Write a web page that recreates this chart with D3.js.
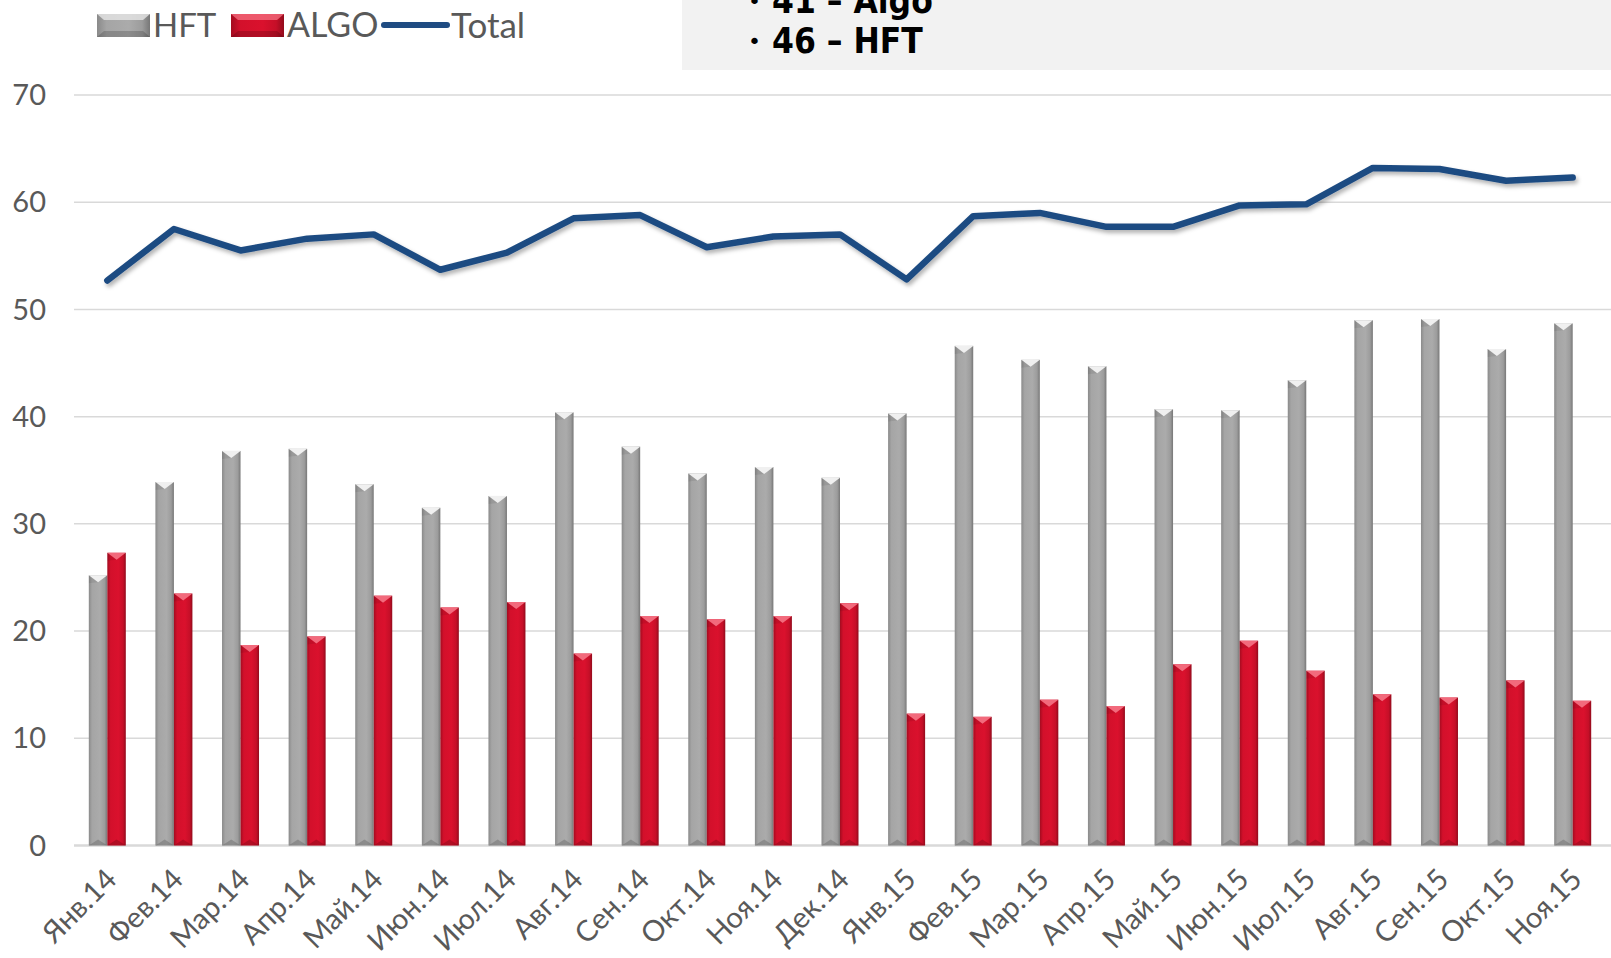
<!DOCTYPE html>
<html>
<head>
<meta charset="utf-8">
<script src="https://cdn.jsdelivr.net/npm/d3@7"></script>
<style>
  html, body { margin: 0; padding: 0; background: #fff; }
  svg { display: block; }
</style>
</head>
<body>
<div id="chart"></div>
<script>
// ── Data ──
const months = ['Янв.14', 'Фев.14', 'Мар.14', 'Апр.14', 'Май.14', 'Июн.14', 'Июл.14', 'Авг.14',
  'Сен.14', 'Окт.14', 'Ноя.14', 'Дек.14', 'Янв.15', 'Фев.15', 'Мар.15', 'Апр.15', 'Май.15',
  'Июн.15', 'Июл.15', 'Авг.15', 'Сен.15', 'Окт.15', 'Ноя.15'];
const hft = [25.2, 33.9, 36.8, 37.0, 33.7, 31.5, 32.6, 40.4, 37.2, 34.7, 35.3, 34.3,
  40.3, 46.6, 45.3, 44.7, 40.7, 40.6, 43.4, 49.0, 49.1, 46.3, 48.7];
const algo = [27.3, 23.5, 18.7, 19.5, 23.3, 22.2, 22.7, 17.9, 21.4, 21.1, 21.4, 22.6,
  12.3, 12.0, 13.6, 13.0, 16.9, 19.1, 16.3, 14.1, 13.8, 15.4, 13.5];
const total = [52.7, 57.5, 55.5, 56.6, 57.0, 53.7, 55.3, 58.5, 58.8, 55.8, 56.8, 57.0,
  52.8, 58.7, 59.0, 57.7, 57.7, 59.7, 59.8, 63.2, 63.1, 62.0, 62.3];
const yTicks = [0, 10, 20, 30, 40, 50, 60, 70];
const noteLines = ['41 – Algo', '46 – HFT'];

const W = 1611, H = 958;
const FONT = 'Lato, "Open Sans", sans-serif';

const svg = d3.select('#chart').append('svg')
  .attr('width', W).attr('height', H);

const defs = svg.append('defs');

// bar gradients (bevelled Excel look)
function hGrad(id, stops) {
  const g = defs.append('linearGradient').attr('id', id)
    .attr('x1', '0%').attr('x2', '100%').attr('y1', '0%').attr('y2', '0%');
  stops.forEach(([o, c]) => g.append('stop').attr('offset', o).attr('stop-color', c));
}
hGrad('gGray', [['0%', '#8a8a8a'], ['18%', '#a5a5a5'], ['60%', '#ababab'], ['85%', '#9c9c9c'], ['100%', '#777']]);
hGrad('gRed', [['0%', '#a30c20'], ['18%', '#d3102b'], ['60%', '#da112d'], ['85%', '#c60f28'], ['100%', '#920b1c']]);

const shadow = defs.append('filter').attr('id', 'lineShadow')
  .attr('x', '-5%').attr('y', '-20%').attr('width', '110%').attr('height', '140%');
shadow.append('feDropShadow').attr('dx', 2).attr('dy', 3).attr('stdDeviation', 2)
  .attr('flood-color', '#000').attr('flood-opacity', 0.3);

// ── Scales ──
const x = d3.scaleBand().domain(months).range([74, 1606]).padding(0);
const y = d3.scaleLinear().domain([0, 70]).range([845.5, 95]);
const barW = 18.5;

// ── Note box (top right) ──
svg.append('rect').attr('x', 682).attr('y', -2).attr('width', W - 682 + 2).attr('height', 72)
  .attr('fill', '#f2f2f2');
const note = svg.append('g');
noteLines.forEach((t, i) => {
  const ty = 13 + i * 40;
  note.append('text').attr('x', 748).attr('y', ty - 4)
    .attr('font-family', '"DejaVu Sans"').attr('font-size', 22).attr('fill', '#000')
    .text('•');
  note.append('text').attr('x', 772).attr('y', ty)
    .attr('font-family', '"DejaVu Sans Condensed", "DejaVu Sans"')
    .attr('font-weight', 'bold').attr('font-size', 35).attr('fill', '#000')
    .attr('font-stretch', 'condensed')
    .text(t);
});

// ── Grid ──
svg.append('g').selectAll('line')
  .data(yTicks)
  .join('line')
  .attr('x1', 74).attr('x2', W)
  .attr('y1', d => y(d)).attr('y2', d => y(d))
  .attr('stroke', '#d9d9d9')
  .attr('stroke-width', d => d === 0 ? 2.5 : 1.5);

// y tick labels
svg.append('g').selectAll('text')
  .data(yTicks)
  .join('text')
  .attr('x', 46).attr('y', d => y(d))
  .attr('dy', '0.35em')
  .attr('text-anchor', 'end')
  .attr('font-family', FONT).attr('font-size', 29).attr('fill', '#595959')
  .text(d => d);

// x tick labels
svg.append('g').selectAll('text')
  .data(months)
  .join('text')
  .attr('transform', d => `translate(${x(d) + x.bandwidth() / 2 + 11},${881}) rotate(-45)`)
  .attr('text-anchor', 'end')
  .attr('font-family', FONT).attr('font-size', 29).attr('fill', '#595959')
  .text(d => d);

// ── Bars ──
function drawBars(values, offset, fill, bevelTop, bevelBot) {
  const g = svg.append('g');
  const bars = g.selectAll('g')
    .data(values.map((v, i) => ({ m: months[i], v })))
    .join('g')
    .attr('transform', d => `translate(${x(d.m) + x.bandwidth() / 2 + offset},0)`);
  bars.append('rect')
    .attr('x', 0).attr('width', barW)
    .attr('y', d => y(d.v)).attr('height', d => y(0) - y(d.v))
    .attr('fill', fill);
  // top bevel (light V)
  bars.append('path')
    .attr('d', d => {
      const t = y(d.v);
      return `M0,${t}L${barW},${t}L${barW / 2},${t + 7}Z`;
    })
    .attr('fill', bevelTop);
  bars.append('path')
    .attr('d', d => {
      const t = y(d.v);
      return `M0,${t}L${barW / 2},${t + 7}L0,${t + 8}Z`;
    })
    .attr('fill', '#000').attr('opacity', 0.08);
  // bottom bevel (dark)
  bars.append('path')
    .attr('d', () => {
      const b = y(0);
      return `M0,${b}L${barW},${b}L${barW / 2},${b - 6}Z`;
    })
    .attr('fill', bevelBot).attr('opacity', 0.35);
}
drawBars(hft, -barW, 'url(#gGray)', '#f0f0f0', '#555');
drawBars(algo, 0, 'url(#gRed)', '#f26a7c', '#6a0814');

// ── Total line ──
const line = d3.line()
  .x((d, i) => x(months[i]) + x.bandwidth() / 2)
  .y(d => y(d));
svg.append('path')
  .datum(total)
  .attr('d', line)
  .attr('fill', 'none')
  .attr('stroke', '#1f4c82')
  .attr('stroke-width', 6.5)
  .attr('stroke-linejoin', 'round')
  .attr('stroke-linecap', 'round')
  .attr('filter', 'url(#lineShadow)');

// ── Legend ──
const legend = svg.append('g');
const swatch = (x0, fill, top) => {
  legend.append('rect').attr('x', x0).attr('y', 14).attr('width', 53).attr('height', 23).attr('fill', fill);
  legend.append('path')
    .attr('d', `M${x0},14L${x0 + 53},14L${x0 + 46},20L${x0 + 7},20Z`)
    .attr('fill', top).attr('opacity', 0.8);
  legend.append('path')
    .attr('d', `M${x0},37L${x0 + 53},37L${x0 + 46},31L${x0 + 7},31Z`)
    .attr('fill', '#000').attr('opacity', 0.18);
};
swatch(97, 'url(#gGray)', '#e6e6e6');
swatch(231, 'url(#gRed)', '#f26a7c');
legend.append('line').attr('x1', 384).attr('x2', 447).attr('y1', 25).attr('y2', 25)
  .attr('stroke', '#1f4c82').attr('stroke-width', 6).attr('stroke-linecap', 'round');
[['HFT', 153, 33], ['ALGO', 287, 34], ['Total', 451, 35]].forEach(([t, tx, fs]) => {
  legend.append('text').attr('x', tx).attr('y', 25).attr('dy', '0.36em')
    .attr('font-family', FONT).attr('font-size', fs).attr('fill', '#595959')
    .text(t);
});
</script>
</body>
</html>
